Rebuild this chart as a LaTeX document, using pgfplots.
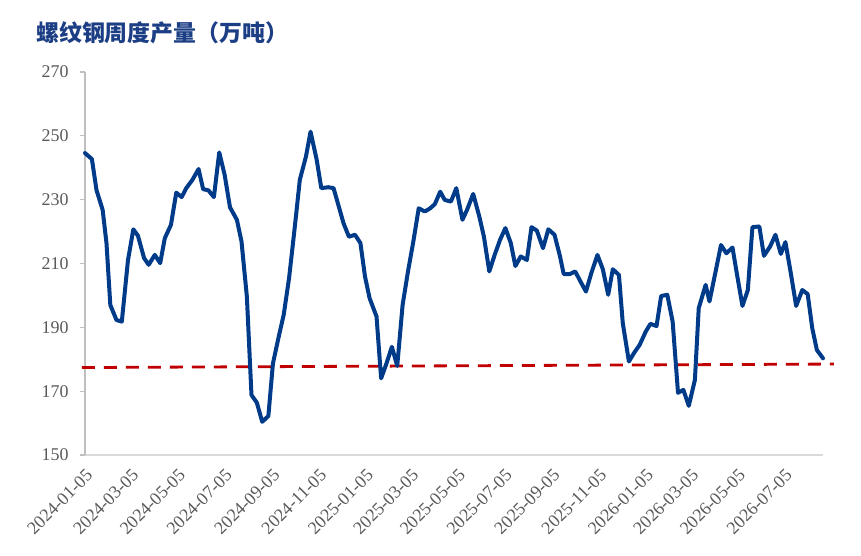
\documentclass[border=0pt]{standalone}
\usepackage{pgfplots}
\pgfplotsset{compat=1.18}
\usepackage{fontspec}
\setmainfont{Liberation Serif}
\newfontfamily\cjk{Noto Sans CJK SC}
\definecolor{lineblue}{RGB}{0,59,138}
\definecolor{titleblue}{RGB}{28,62,132}
\definecolor{dashred}{RGB}{192,0,0}
\definecolor{ticktext}{RGB}{89,89,89}
\definecolor{yaxisgray}{RGB}{191,191,191}
\definecolor{xaxisgray}{RGB}{217,217,217}
\begin{document}
\begin{tikzpicture}
\useasboundingbox (0bp,0bp) rectangle (861bp,556bp);
\node[anchor=west, text=titleblue, font=\cjk\bfseries\fontsize{23}{26}\selectfont, inner sep=0pt] at (36bp,523bp) {螺纹钢周度产量（万吨）};
\begin{axis}[
  at={(85bp,101bp)}, anchor=south west,
  scale only axis, width=738bp, height=383bp,
  xmin=0, xmax=962, ymin=150, ymax=270,
  axis x line*=bottom, axis y line*=left,
  x axis line style={draw=xaxisgray, line width=1.3bp},
  y axis line style={draw=yaxisgray, line width=1.3bp},
  ytick={150,170,190,210,230,250,270},
  xtick={0,60,121,182,244,305,366,425,486,547,609,670,731,790,851,912},
  xticklabels={2024-01-05,2024-03-05,2024-05-05,2024-07-05,2024-09-05,2024-11-05,2025-01-05,2025-03-05,2025-05-05,2025-07-05,2025-09-05,2025-11-05,2026-01-05,2026-03-05,2026-05-05,2026-07-05},
  tick align=outside,
  major tick length=5bp,
  y tick style={draw=yaxisgray, line width=1.3bp},
  x tick style={draw=none},
  /pgf/number format/assume math mode=true,
  ticklabel style={font=\fontsize{18}{21}\selectfont, text=ticktext},
  yticklabel style={xshift=-8bp},
  xticklabel style={rotate=45, anchor=north east, inner sep=2pt, xshift=-3.5bp, yshift=-3.5bp},
  clip=false,
]
\addplot[dashred, line width=2.8bp, dash pattern=on 13bp off 9bp] coordinates {(-4,177.4) (976,178.5)};
\addplot[lineblue, line width=4bp, line join=round, line cap=round] coordinates {
(0,244.6) (9,242.7) (15,233) (23,226.8) (28,216.4) (33,197) (41,192.3) (48,191.8)
(56,211) (63,220.7) (69,218.7) (77,211.7) (83,209.6) (91,212.7) (98,210.1) (104,217.9)
(112,222.1) (119,232.2) (126,230.8) (132,233.6) (140,236.2) (148,239.6) (154,233.3) (161,232.9)
(168,230.8) (175,244.8) (182,237.8) (189,227.6) (198,223.7) (204,216.9) (211,199.6) (217,168.8)
(224,166.4) (231,160.4) (239,162.2) (245,178.7) (253,187.6) (259,193.9) (266,205.4) (274,222.6)
(280,236.2) (288,243.5) (294,251.3) (302,242.5) (308,233.6) (317,233.9) (324,233.6) (337,222.6)
(344,218.4) (352,219) (359,216.4) (365,205.9) (371,199.1) (380,193.4) (386,174) (393,178.7)
(400,183.9) (407,177.9) (414,197) (421,207.5) (428,216.9) (435,227.3) (443,226.3) (450,227.3)
(456,228.6) (463,232.5) (469,229.9) (477,229.4) (484,233.6) (492,223.7) (498,226.8) (506,231.8)
(514,224.7) (520,218.4) (527,207.5) (534,212.7) (541,217.4) (548,221.1) (555,216.4) (561,209.2)
(568,212.2) (576,211.1) (582,221.4) (589,220.3) (597,214.8) (604,220.7) (612,219) (619,212.4)
(624,206.7) (632,206.7) (639,207.5) (646,204.3) (653,201.2) (660,207) (668,212.7) (675,208.2)
(682,200.2) (688,208.2) (696,206.4) (701,191.3) (709,179.3) (716,182.1) (723,184.5) (731,188.7)
(737,191.1) (745,190.4) (751,199.8) (759,200.2) (766,191.8) (773,169.5) (780,170.4) (787,165.4)
(795,173.5) (800,196) (809,203.3) (814,198.1) (822,207.5) (829,215.8) (836,213.2) (844,215)
(850,206.4) (857,196.7) (864,201.7) (870,221.4) (879,221.6) (885,212.4) (893,215.3) (900,219)
(907,213) (913,216.7) (920,207) (927,196.7) (935,201.7) (942,200.4) (948,189.7) (954,182.9)
(962,180.3)
};
\end{axis}
\end{tikzpicture}
\end{document}
